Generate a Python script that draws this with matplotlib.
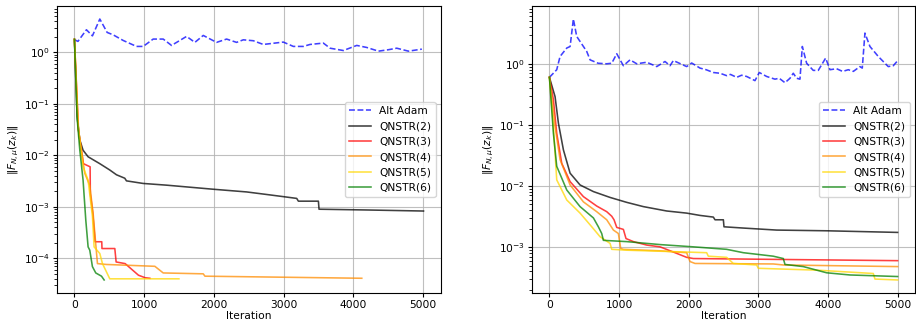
import matplotlib
matplotlib.use("Agg")
import matplotlib.pyplot as plt

plt.rcParams['font.size'] = 7.7

# ---------------- Left panel data ----------------
L_adam_x = [0, 50, 172, 258, 364, 469, 555, 699, 890, 986, 1129, 1273, 1392, 1608, 1727, 1847,
            2038, 2182, 2325, 2421, 2565, 2708, 2995, 3139, 3282, 3378, 3569, 3665, 3856, 4048,
            4191, 4359, 4502, 4621, 4789, 4981]
L_adam_y = [1.77, 1.64, 2.76, 2.1, 4.46, 2.45, 2.2, 1.71, 1.31, 1.31, 1.82, 1.82, 1.37, 2.05, 1.57, 2.14,
            1.57, 1.82, 1.57, 1.76, 1.69, 1.43, 1.59, 1.31, 1.31, 1.43, 1.52, 1.21, 1.09, 1.37,
            1.25, 1.06, 1.13, 1.21, 1.06, 1.16]

L_q2_x = [0, 38, 77, 124, 196, 364, 507, 603, 722, 746, 986, 1321, 1990, 2469, 2756, 2995, 3187, 3211,
          3498, 3507, 4191, 5005]
L_q2_y = [1.8, 0.057, 0.02, 0.0126, 0.0094, 0.0069, 0.0052, 0.0042, 0.0036, 0.0032, 0.00285, 0.00264,
          0.0022, 0.00195, 0.00174, 0.00158, 0.00146, 0.00129, 0.00129, 0.0009, 0.00087, 0.00083]

L_q3_x = [0, 57, 129, 225, 228, 263, 297, 392, 395, 579, 598, 727, 918, 1014, 1081]
L_q3_y = [1.8, 0.031, 0.0069, 0.006, 0.0018, 0.00075, 2.1e-4, 2.1e-4, 1.55e-4, 1.55e-4, 8.5e-5,
          7.9e-5, 4.7e-5, 4.2e-5, 4.1e-5]

L_q4_x = [0, 60, 148, 220, 268, 292, 330, 459, 1153, 1273, 1847, 1871, 4120]
L_q4_y = [1.8, 0.03, 0.0045, 0.0026, 7.5e-4, 3.1e-4, 7.9e-5, 7.6e-5, 7.0e-5, 5.2e-5, 5.0e-5, 4.5e-5, 4.1e-5]

L_q5_x = [0, 50, 124, 196, 258, 282, 364, 402, 507, 1498]
L_q5_y = [1.8, 0.04, 0.006, 0.0033, 6.5e-4, 1.67e-4, 1.24e-4, 7.9e-5, 4.0e-5, 4.0e-5]

L_q6_x = [0, 40, 77, 124, 163, 196, 220, 258, 306, 388, 426]
L_q6_y = [1.8, 0.05, 0.0127, 0.0033, 5.5e-4, 1.67e-4, 1.44e-4, 6.9e-5, 5.2e-5, 4.5e-5, 3.8e-5]

# ---------------- Right panel data ----------------
R_adam_x = [0, 105, 153, 249, 297, 344, 392, 488, 536, 584, 700, 823, 895, 967, 1062, 1158, 1254, 1397,
            1541, 1660, 1732, 1780, 1971, 2043, 2163, 2250, 2354, 2450, 2545, 2600, 2689, 2760, 2833,
            2952, 3014, 3120, 3239, 3300, 3383, 3455, 3502, 3550, 3598, 3632, 3694, 3789, 3861, 3967,
            4029, 4124, 4211, 4292, 4364, 4459, 4493, 4531, 4603, 4722, 4866, 4938, 5000]
R_adam_y = [0.60, 0.80, 1.32, 1.81, 1.92, 5.4, 2.8, 1.92, 1.59, 1.16, 1.02, 1.0, 1.02, 1.46, 0.93, 1.16,
            1.0, 1.06, 0.90, 1.09, 0.93, 1.13, 0.90, 1.03, 0.85, 0.80, 0.72, 0.70, 0.64, 0.67, 0.60, 0.65,
            0.62, 0.53, 0.72, 0.62, 0.56, 0.58, 0.49, 0.58, 0.70, 0.58, 0.56, 1.92, 1.02, 0.78, 0.78,
            1.24, 0.80, 0.83, 0.75, 0.80, 0.75, 0.90, 0.85, 3.18, 1.92, 1.32, 0.90, 0.93, 1.12]

R_q2_x = [0, 81, 129, 201, 297, 440, 632, 871, 1110, 1349, 1684, 1971, 2163, 2354, 2378, 2498, 2507,
          2785, 3263, 3981, 5000]
R_q2_y = [0.6, 0.29, 0.107, 0.039, 0.0162, 0.0104, 0.0081, 0.0065, 0.0054, 0.0046, 0.0039, 0.0036,
          0.0033, 0.0031, 0.0028, 0.0028, 0.00215, 0.00205, 0.0019, 0.00185, 0.00174]

R_q3_x = [0, 57, 105, 177, 297, 488, 679, 823, 895, 928, 967, 1062, 1100, 1206, 1397, 1589, 1780,
          1971, 2067, 5000]
R_q3_y = [0.6, 0.26, 0.073, 0.0235, 0.0118, 0.0067, 0.0047, 0.0038, 0.0032, 0.0028, 0.0021, 0.00195,
          0.00138, 0.00123, 0.00108, 0.00101, 0.00083, 0.00068, 0.00065, 0.00060]

R_q4_x = [0, 81, 153, 297, 488, 679, 823, 919, 990, 1024, 1062, 1589, 1971, 2019, 2091, 3215, 3359, 5000]
R_q4_y = [0.6, 0.094, 0.027, 0.0104, 0.0055, 0.0038, 0.0028, 0.0019, 0.00167, 0.00095, 0.00092,
          0.00087, 0.00081, 0.00058, 0.00054, 0.00053, 0.00051, 0.00048]

R_q5_x = [0, 57, 105, 249, 440, 608, 727, 871, 895, 1110, 1971, 2258, 2282, 2545, 2641, 2976, 3000,
          3837, 4651, 4675, 5000]
R_q5_y = [0.6, 0.094, 0.0126, 0.0059, 0.0036, 0.00215, 0.00148, 0.00115, 0.00092, 0.00089, 0.00083,
          0.00081, 0.00071, 0.00068, 0.00054, 0.00051, 0.00045, 0.00042, 0.00037, 0.00030, 0.00029]

R_q6_x = [0, 57, 105, 249, 440, 632, 703, 751, 775, 1110, 1589, 2067, 2545, 2785, 3215, 3359, 3383,
          3646, 3981, 4316, 5000]
R_q6_y = [0.6, 0.073, 0.021, 0.0086, 0.0046, 0.0030, 0.00215, 0.00167, 0.00129, 0.00123, 0.0011,
          0.00101, 0.00092, 0.00081, 0.00071, 0.00065, 0.00052, 0.00048, 0.00038, 0.00035, 0.00033]

labels = ['Alt Adam', 'QNSTR(2)', 'QNSTR(3)', 'QNSTR(4)', 'QNSTR(5)', 'QNSTR(6)']
colors = ['blue', 'black', 'red', 'darkorange', 'gold', 'green']

fig = plt.figure(figsize=(9.16, 3.29), dpi=100)
ax1 = fig.add_axes([0.0622, 0.1094, 0.4192, 0.8724])
ax2 = fig.add_axes([0.5808, 0.1094, 0.4181, 0.8724])

left_series = [(L_adam_x, L_adam_y), (L_q2_x, L_q2_y), (L_q3_x, L_q3_y),
               (L_q4_x, L_q4_y), (L_q5_x, L_q5_y), (L_q6_x, L_q6_y)]
right_series = [(R_adam_x, R_adam_y), (R_q2_x, R_q2_y), (R_q3_x, R_q3_y),
                (R_q4_x, R_q4_y), (R_q5_x, R_q5_y), (R_q6_x, R_q6_y)]

for ax, series in [(ax1, left_series), (ax2, right_series)]:
    for i, ((x, y), lab, c) in enumerate(zip(series, labels, colors)):
        ls = '--' if i == 0 else '-'
        ax.plot(x, y, ls, color=c, label=lab, lw=1.15, alpha=0.75)
    ax.set_yscale('log')
    ax.grid(True, color='#b0b0b0', lw=0.8, alpha=0.8)
    ax.set_xlabel('Iteration', labelpad=1)
    ax.set_ylabel(r'$\|F_{N,\mu}(z_k)\|$', labelpad=2)
    ax.set_xticks([0, 1000, 2000, 3000, 4000, 5000])
    ax.legend(loc='center right', fontsize=7.7)
    ax.tick_params(length=3, pad=2)

fig.savefig('out.png', dpi=100)
